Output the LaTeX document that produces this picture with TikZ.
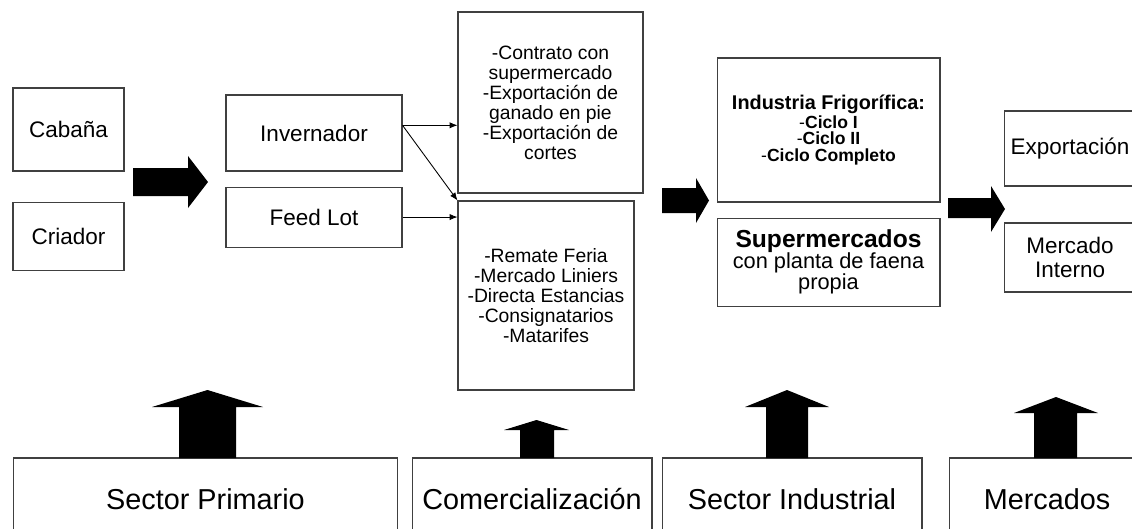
\documentclass[tikz,border=0pt]{standalone}
\usepackage{fontspec}
\setmainfont{Liberation Sans}
\usetikzlibrary{positioning, calc, arrows.meta}

\begin{document}
\begin{tikzpicture}[
    x=0.02cm, y=-0.02cm,
    node distance=0.3cm,
    every node/.style={font=\fontsize{12.8}{14}\selectfont},
    box/.style={rectangle, draw=black!75, line width=0.6pt, fill=white, align=center, inner sep=2pt},
    listbox/.style={box, font=\fontsize{11}{11.4}\selectfont},
    sector/.style={box, minimum height=1.64cm, font=\fontsize{16.4}{18}\selectfont},
    flow/.style={-{Latex[length=4.5pt, width=3.6pt]}, line width=0.5pt, black},
    blockarrow/.style={fill=black},
]

\useasboundingbox (0,0) rectangle (1132,528);
\clip (0,0) rectangle (1132,528);

% Primary producers
\node[box, minimum width=2.22cm, minimum height=1.66cm] (cabana) at (68.5,129.5) {Cabaña};
\node[box, minimum width=2.22cm, minimum height=1.36cm, below=0.6cm of cabana] (criador) {Criador};

\node[box, minimum width=3.52cm, minimum height=1.52cm] (invernador) at (314,133) {Invernador};
\node[box, minimum width=3.52cm, minimum height=1.2cm, below=0.3cm of invernador] (feedlot) {Feed Lot};

% Trade channels
\node[listbox, minimum width=3.70cm, minimum height=3.62cm] (contratos) at (550.5,102.5)
    {-Contrato con\\supermercado\\-Exportación de\\ganado en pie\\-Exportación de\\cortes};
\node[listbox, minimum width=3.52cm, minimum height=3.78cm] (remates) at (546,295.5)
    {-Remate Feria\\-Mercado Liniers\\-Directa Estancias\\-Consignatarios\\-Matarifes};

% Industry
\node[box, minimum width=4.46cm, minimum height=2.88cm, font=\fontsize{10}{9.5}\selectfont] (frigorifico) at (828.5,130)
    {{\fontsize{11.3}{9.5}\selectfont\textbf{Industria Frigorífica:}}\\
     -\textbf{Ciclo I}\\-\textbf{Ciclo II}\\-\textbf{Ciclo Completo}};
\node[box, minimum width=4.46cm, minimum height=1.76cm, below=0.3cm of frigorifico, font=\fontsize{12.4}{12}\selectfont] (super)
    {{\fontsize{14}{12}\selectfont\textbf{Supermercados}}\\
     con planta de faena\\propia};

% Markets
\node[box, minimum width=2.64cm, minimum height=1.5cm] (exportacion) at (1070,148.5) {Exportación};
\node[box, minimum width=2.64cm, minimum height=1.38cm] (interno) at (1070,257.5) {Mercado\\Interno};

% Thin arrows
\coordinate (invout) at ($(invernador.north east)!0.4!(invernador.south east)$);
\draw[flow] (invout) -- (invout -| contratos.west);
\draw[flow] (invout) -- (remates.north west);
\draw[flow] (feedlot.east) -- (feedlot.east -| remates.west);

% Block arrows between stages
\fill[blockarrow] (133,168) -- (188,168) -- (188,156) -- (208,182) -- (188,208) -- (188,196) -- (133,196) -- cycle;
\fill[blockarrow] (662,188) -- (696,188) -- (696,178) -- (709,200.5) -- (696,223) -- (696,213) -- (662,213) -- cycle;
\fill[blockarrow] (948,198) -- (991,198) -- (991,186) -- (1005,209) -- (991,232) -- (991,218) -- (948,218) -- cycle;

% Sectors
\node[sector, minimum width=7.70cm] (primario) at (205.5,499) {Sector Primario};
\node[sector, minimum width=4.80cm] (comercial) at (532,499) {Comercialización};
\node[sector, minimum width=5.20cm] (industrial) at (792,499) {Sector Industrial};
\node[sector, minimum width=3.92cm] (mercados) at (1047,499) {Mercados};

% Block arrows up from sectors
\fill[blockarrow] (179,458) -- (179,407) -- (152,407) -- (207.5,390) -- (263,407) -- (236,407) -- (236,458) -- cycle;
\fill[blockarrow] (520,458) -- (520,430) -- (504,430) -- (536.5,420) -- (569,430) -- (554,430) -- (554,458) -- cycle;
\fill[blockarrow] (766,458) -- (766,407) -- (745,407) -- (787,390) -- (829,407) -- (808,407) -- (808,458) -- cycle;
\fill[blockarrow] (1034,458) -- (1034,413) -- (1014,413) -- (1056,397) -- (1098,413) -- (1077,413) -- (1077,458) -- cycle;

\end{tikzpicture}
\end{document}
